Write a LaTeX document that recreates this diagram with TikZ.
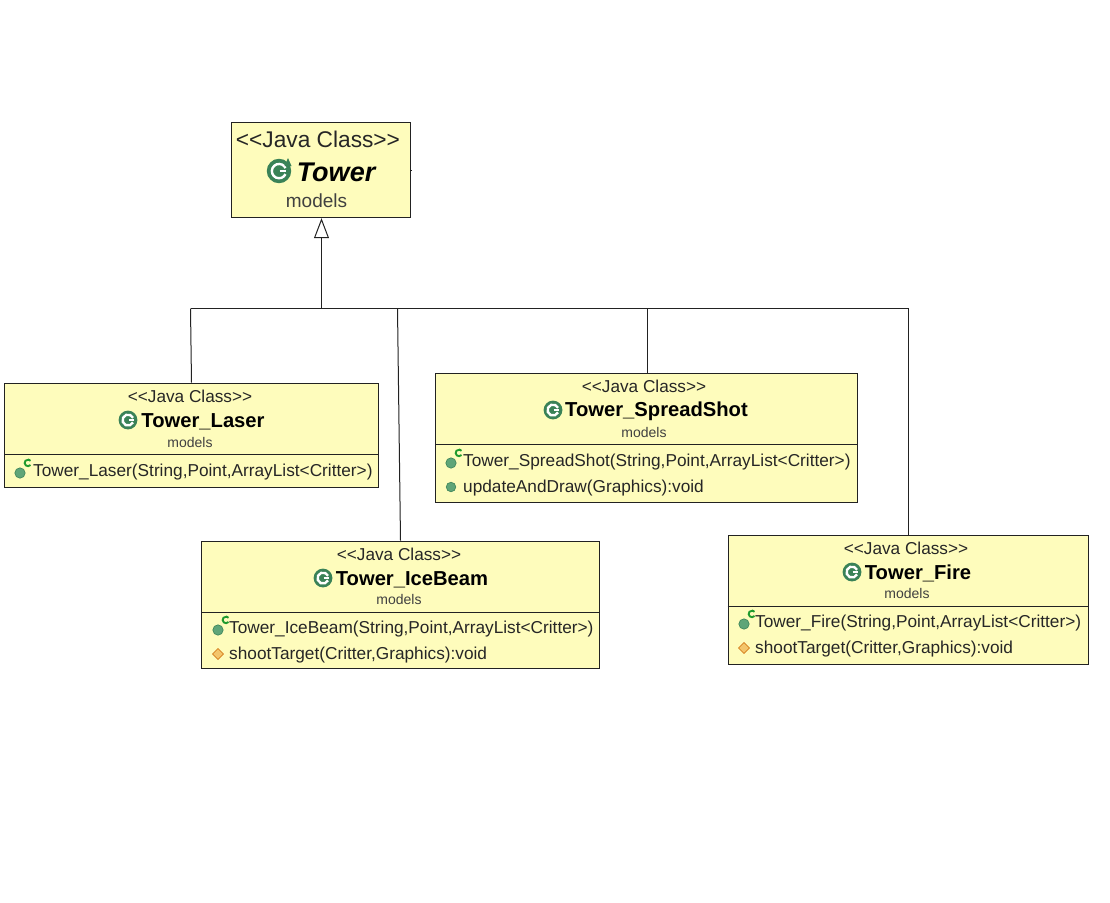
\documentclass[tikz,border=0pt]{standalone}
\usepackage{fontspec}
\setmainfont{Liberation Sans}
\usetikzlibrary{arrows.meta}
\definecolor{umlfill}{HTML}{FEFCBC}
\definecolor{umlline}{HTML}{222222}
\definecolor{icongreen}{HTML}{3A8257}
\definecolor{dotgreen}{HTML}{5FA578}
\definecolor{dotc}{HTML}{1E9A2E}
\definecolor{diamondc}{HTML}{F3C56B}
\newcommand{\jc}{{<}{<}Java Class{>}{>}}
\tikzset{
  umlbox/.style={draw=umlline,fill=umlfill,line width=1.2pt,inner sep=0pt,anchor=north west},
  stereo/.style={inner sep=0pt,font=\fontsize{17.2}{19}\selectfont,text=black!85},
  bigstereo/.style={inner sep=0pt,font=\fontsize{22.7}{25}\selectfont,text=black!85},
  classname/.style={inner sep=0pt,font=\fontsize{20.2}{22}\selectfont\bfseries,text=black},
  pkg/.style={inner sep=0pt,font=\fontsize{14}{16}\selectfont,text=black!75},
  member/.style={inner sep=0pt,anchor=west,font=\fontsize{17.25}{19}\selectfont,text=black!85},
  conn/.style={draw=umlline,line width=1pt},
  inherit/.style={conn,-{Triangle[open,fill=white,length=20pt,width=15pt,line width=1pt]}},
}
\newcommand{\classicon}[3][1]{%
  \begin{scope}[shift={(#2,#3)},scale=#1]
    \fill[icongreen] (0,0) circle[radius=9.4];
    \draw[white,line width=2.4pt] (5,2.4) arc[start angle=25,end angle=335,radius=5.5] ;
    \draw[white,line width=2pt] (0.5,0) -- (5.5,0);
  \end{scope}}
\newcommand{\ctoricon}[2]{%
  \fill[dotgreen,draw=icongreen,line width=.6pt] (#1,#2) circle[radius=5.2];
  \draw[dotc,line width=1.9pt] (#1+10.5,#2-8) arc[start angle=40,end angle=320,radius=3.3];}
\newcommand{\methodicon}[2]{%
  \fill[dotgreen,draw=icongreen,line width=.6pt] (#1,#2) circle[radius=4.8];}
\newcommand{\proticon}[2]{%
  \fill[diamondc,draw=orange!80!black,line width=.6pt] (#1-5.5,#2) -- (#1,#2-5.5) -- (#1+5.5,#2) -- (#1,#2+5.5) -- cycle;}
\begin{document}
\begin{tikzpicture}[x=1pt,y=-1pt]
\useasboundingbox (0,0) rectangle (1110,902);
% Tower
\node[umlbox,minimum width=179pt,minimum height=95pt] (tower) at (230.5,122) {};
\node[bigstereo] (towerS) at (318,139) {\jc};
\classicon[1.3]{279}{171}
\fill[icongreen] (288,158) -- (291.5,166) -- (284.5,166) -- cycle;
\node[inner sep=0pt,font=\fontsize{27}{29}\selectfont\bfseries\itshape] (towerN) at (336,172) {Tower};
\node[pkg,font=\fontsize{19}{21}\selectfont] (towerP) at (316.5,201) {models};
\draw[umlline,line width=1pt] (410,170) -- (411.5,170);
% Laser
\node[umlbox,minimum width=374pt,minimum height=104pt] (laser) at (4,382.5) {};
\draw[conn] (4,454.5) -- (378,454.5);
\node[stereo] (laserS) at (190,396) {\jc};
\classicon{128}{420}
\node[classname] (laserN) at (203,421.5) {Tower\_Laser};
\node[pkg] (laserP) at (190,442.5) {models};
\ctoricon{20}{473}
\node[member] (laserM) at (33,472.5) {Tower\_Laser(String,Point,ArrayList<Critter>)};
% SpreadShot
\node[umlbox,minimum width=422pt,minimum height=129pt] (spread) at (435,373) {};
\draw[conn] (435,444.5) -- (857,444.5);
\node[stereo] (spreadS) at (644,386) {\jc};
\classicon{553}{410}
\node[classname] (spreadN) at (656.5,411.5) {Tower\_SpreadShot};
\node[pkg] (spreadP) at (644,432.5) {models};
\ctoricon{451}{463}
\node[member] (spreadM) at (463,462.5) {Tower\_SpreadShot(String,Point,ArrayList<Critter>)};
\methodicon{451}{487}
\node[member] (spreadU) at (463,488.5) {updateAndDraw(Graphics):void};
% IceBeam
\node[umlbox,minimum width=398pt,minimum height=127pt] (ice) at (201,540.5) {};
\draw[conn] (201,612.5) -- (599,612.5);
\node[stereo] (iceS) at (399,554) {\jc};
\classicon{323}{578}
\node[classname] (iceN) at (412,579.5) {Tower\_IceBeam};
\node[pkg] (iceP) at (399,599.5) {models};
\ctoricon{218}{630}
\node[member] (iceM) at (229,629.5) {Tower\_IceBeam(String,Point,ArrayList<Critter>)};
\proticon{218}{654}
\node[member] (iceT) at (229,655) {shootTarget(Critter,Graphics):void};
% Fire
\node[umlbox,minimum width=360pt,minimum height=129pt] (fire) at (727.5,534.5) {};
\draw[conn] (727.5,606.5) -- (1087.5,606.5);
\node[stereo] (fireS) at (906,548) {\jc};
\classicon{852}{572}
\node[classname] (fireN) at (918,573) {Tower\_Fire};
\node[pkg] (fireP) at (907,593.5) {models};
\ctoricon{744}{624}
\node[member] (fireM) at (755,623.5) {Tower\_Fire(String,Point,ArrayList<Critter>)};
\proticon{744}{648}
\node[member] (fireT) at (755,649.5) {shootTarget(Critter,Graphics):void};
% Connectors
\coordinate (jroot) at (321.5,308.5);
\coordinate (jlaser) at (190.5,308.5);
\coordinate (jice) at (397.5,308.5);
\coordinate (jspread) at (647.5,308.5);
\coordinate (jfire) at (908.5,308.5);
\coordinate (elaser) at (191.5,382.5);
\coordinate (eice) at (400.5,540.5);
\draw[conn] (jlaser) -- (jfire);
\draw[inherit] (jroot) -- (tower.south -| jroot);
\draw[conn] (jlaser) -- (elaser);
\draw[conn] (jice) -- (eice);
\draw[conn] (jspread) -- (spread.north -| jspread);
\draw[conn] (jfire) -- (fire.north -| jfire);
\end{tikzpicture}
\end{document}
